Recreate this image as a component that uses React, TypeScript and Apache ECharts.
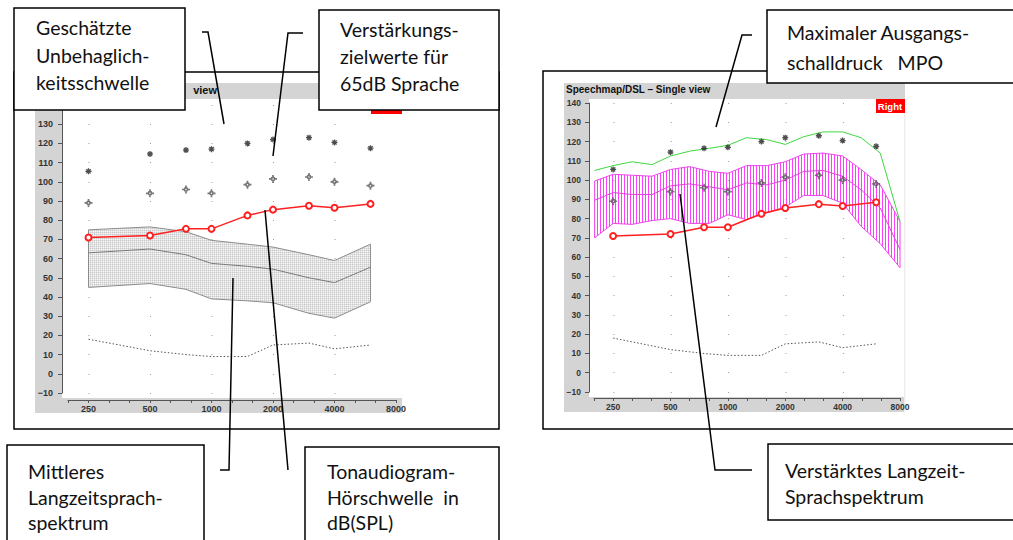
import React, { useEffect, useRef } from 'react';
import * as echarts from 'echarts';

// ---------- data ----------
const FREQ_HZ = [250, 500, 750, 1000, 1500, 2000, 3000, 4000, 6000];
const UCL_SPL = [105.5, 114.5, 116.5, 117, 120, 122, 123, 120.5, 117.5];
const TARGET_65 = [89, 94, 96, 94, 98.5, 101.5, 102.5, 100, 98];
const THRESHOLD_SPL = [71, 72, 75.5, 75.5, 82.5, 85.5, 87.5, 86.5, 88.5];
const NORMAL_THRESHOLD = [18, 12, 10, 9, 9, 15, 16, 13, 15];
const LTASS_UPPER = [75, 76.5, 74, 69.5, 67.5, 66, 62, 59, 67.5];
const LTASS_MEAN = [63, 65, 62, 57.5, 56, 54.5, 50, 47.5, 55.5];
const LTASS_LOWER = [45, 47, 44, 39, 38, 37, 31.5, 29, 37.5];

const BAND_HZ = [200, 250, 315, 400, 500, 630, 800, 1000, 1250, 1600, 2000, 2500, 3150, 4000, 5000, 6300, 8000];
const AIDED_UPPER = [99.5, 103, 102.5, 102, 105.5, 107, 104.5, 103.5, 107.5, 107.5, 109.5, 113.5, 114, 112.5, 105.5, 97.5, 78.5];
const AIDED_MEAN = [89.5, 93.5, 92.5, 92.5, 97, 98, 96.5, 95, 98.5, 97.5, 100, 104.5, 105, 102, 95, 85.5, 64];
const AIDED_LOWER = [70, 77.5, 77, 79, 80, 77.5, 77.5, 82, 79.5, 83, 86, 92, 92, 88, 76, 67, 54.5];
const MPO_SPL = [105, 107.5, 109.5, 108, 112.5, 115, 116.5, 118, 122, 121, 118.5, 122.5, 125, 125, 122, 114, 78.5];

const X_LABEL_HZ = [250, 500, 1000, 2000, 4000, 8000];
const Y_MIN = -10;
const Y_MAX = 140;
const Y_STEP = 10;

const TITLE = 'Speechmap/DSL – Single view';
const TITLE_VISIBLE_TAIL = 'view';
const SIDE = 'Right';
const NOTE_UCL = 'Geschätzte\nUnbehaglich-\nkeitsschwelle';
const NOTE_TARGET = 'Verstärkungs-\nzielwerte für\n65dB Sprache';
const NOTE_LTASS = 'Mittleres\nLangzeitsprach-\nspektrum';
const NOTE_THRESH = 'Tonaudiogram-\nHörschwelle  in\ndB(SPL)';
const NOTE_MPO = 'Maximaler Ausgangs-\nschalldruck   MPO';
const NOTE_AIDED = 'Verstärktes Langzeit-\nSprachspektrum';

// ---------- helpers ----------
const oct = (f: number) => Math.log2(f / 1000);
const X_MIN = -7 / 3;
const X_MAX = 3;
const X_STEP = 1 / 3;

const STAR = 'path://M5,0L5,10M0,5L10,5M1.5,1.5L8.5,8.5M1.5,8.5L8.5,1.5';
const CROSS = 'path://M5,0L5,3M5,7L5,10M0,5L3,5M7,5L10,5M7,5A2,2,0,1,1,3,5A2,2,0,1,1,7,5';

function makePattern(w: number, h: number, draw: (ctx: CanvasRenderingContext2D) => void) {
  const c = document.createElement('canvas');
  c.width = w;
  c.height = h;
  const ctx = c.getContext('2d')!;
  draw(ctx);
  return { image: c, repeat: 'repeat' } as any;
}

function xAxisOf(gridIndex: number, offset: number, fontSize: number) {
  return {
    type: 'value', gridIndex, min: X_MIN, max: X_MAX, interval: X_STEP, offset, position: 'bottom',
    axisLine: { show: true, onZero: false, lineStyle: { color: '#555', width: 1 } },
    axisTick: { show: true, length: 3, lineStyle: { color: '#555' } },
    axisLabel: {
      margin: 4, fontSize, fontWeight: 'bold', color: '#333', fontFamily: 'Liberation Sans',
      showMinLabel: true, showMaxLabel: true,
      formatter: (v: number) => {
        const r = Math.round(v);
        if (Math.abs(v - r) > 1e-6) return '';
        const hz = Math.round(1000 * Math.pow(2, r));
        return X_LABEL_HZ.indexOf(hz) >= 0 ? String(hz) : '';
      },
    },
    splitLine: { show: false },
  };
}

function yAxisOf(gridIndex: number, offset: number, fontSize: number, margin: number, octPx: number) {
  const first = (oct(250) - X_MIN) * octPx;
  return {
    type: 'value', gridIndex, min: Y_MIN, max: Y_MAX, interval: Y_STEP, offset,
    axisLine: { show: true, onZero: false, lineStyle: { color: '#555', width: 1 } },
    axisTick: { show: true, length: 4, lineStyle: { color: '#555' } },
    axisLabel: {
      margin, fontSize, fontWeight: 'bold', color: '#333', fontFamily: 'Liberation Sans',
      formatter: (v: number) => (v < 0 ? '−' + Math.abs(v) : String(v)),
    },
    splitLine: {
      show: true,
      lineStyle: { color: '#9a9a9a', width: 1, type: [1, octPx - 1], dashOffset: octPx - first },
    },
  };
}

function bandSeries(idx: number, freqs: number[], lower: number[], upper: number[], fill: any, stroke: string) {
  return {
    type: 'custom', xAxisIndex: idx, yAxisIndex: idx, silent: true, z: 2,
    data: freqs.map((f, i) => [oct(f), lower[i], upper[i]]),
    encode: { x: 0, y: [1, 2] },
    renderItem: (params: any, api: any) => {
      if (params.dataIndex !== 0) return { type: 'group', children: [] };
      const top = freqs.map((f, i) => api.coord([oct(f), upper[i]]));
      const bot = freqs.map((f, i) => api.coord([oct(f), lower[i]])).reverse();
      return { type: 'polygon', shape: { points: top.concat(bot) }, style: { fill, stroke, lineWidth: 1 } };
    },
  };
}

function pts(freqs: number[], vals: number[]) {
  return freqs.map((f, i) => [oct(f), vals[i]]);
}

function commonSeries(idx: number) {
  return [
    {
      type: 'line', xAxisIndex: idx, yAxisIndex: idx, data: pts(FREQ_HZ, NORMAL_THRESHOLD), symbol: 'none',
      lineStyle: { color: '#555', width: 1, type: [1.5, 2] }, z: 3, silent: true,
    },
    {
      type: 'line', xAxisIndex: idx, yAxisIndex: idx, data: pts(FREQ_HZ, THRESHOLD_SPL), symbol: 'emptyCircle', symbolSize: 6,
      lineStyle: { color: '#ff2020', width: 1.5 }, itemStyle: { color: '#ff2020', borderWidth: 1.5 }, z: 6, silent: true,
    },
    {
      type: 'scatter', xAxisIndex: idx, yAxisIndex: idx, data: pts(FREQ_HZ, UCL_SPL), symbol: STAR, symbolSize: 6,
      itemStyle: { color: 'rgba(0,0,0,0)', borderColor: '#222', borderWidth: 1.3 }, z: 7, silent: true,
    },
    {
      type: 'scatter', xAxisIndex: idx, yAxisIndex: idx, data: pts(FREQ_HZ, TARGET_65), symbol: CROSS, symbolSize: 8,
      itemStyle: { color: 'rgba(0,0,0,0)', borderColor: '#555', borderWidth: 1.7 }, z: 7, silent: true,
    },
  ];
}

function noteBox(x: number, y: number, w: number, h: number, text: string, tx: number, ty: number, lh: number) {
  return [
    { type: 'rect', z: 100, shape: { x, y, width: w, height: h }, style: { fill: '#fff', stroke: '#000', lineWidth: 1.5 } },
    {
      type: 'text', z: 101, x: tx, y: ty,
      style: { text, fill: '#111', fontSize: 19.5, fontFamily: 'Lato', lineHeight: lh, align: 'left', verticalAlign: 'top' },
    },
  ];
}

function leader(points: number[][]) {
  return { type: 'polyline', z: 102, shape: { points }, style: { stroke: '#000', lineWidth: 1.5, fill: null } };
}

function buildOption() {
  const grayPattern = makePattern(2, 2, (ctx) => {
    ctx.fillStyle = '#f5f5f5';
    ctx.fillRect(0, 0, 2, 2);
    ctx.fillStyle = '#e3e3e3';
    ctx.fillRect(1, 0, 1, 1);
    ctx.fillRect(0, 1, 1, 1);
    ctx.fillStyle = '#c8c8c8';
    ctx.fillRect(0, 0, 1, 1);
  });
  const magentaPattern = makePattern(3, 2, (ctx) => {
    ctx.fillStyle = '#ff3cff';
    ctx.fillRect(0, 0, 1, 2);
  });

  const leftOct = 328 / (X_MAX - X_MIN);
  const rightOct = 306 / (X_MAX - X_MIN);

  const graphic: any[] = [
    // outer frames
    { type: 'rect', z: -20, shape: { x: 14, y: 72, width: 485, height: 357 }, style: { fill: '#fff', stroke: '#000', lineWidth: 1.5 } },
    { type: 'rect', z: -20, shape: { x: 543, y: 71, width: 475, height: 358 }, style: { fill: '#fff', stroke: '#000', lineWidth: 1.5 } },
    // chart windows
    { type: 'rect', z: -19, shape: { x: 35, y: 83, width: 367, height: 330 }, style: { fill: '#d4d4d4' } },
    { type: 'rect', z: -18, shape: { x: 62, y: 99, width: 340, height: 299 }, style: { fill: '#fff' } },
    { type: 'rect', z: -19, shape: { x: 564, y: 83, width: 341, height: 329 }, style: { fill: '#d4d4d4' } },
    { type: 'rect', z: -18, shape: { x: 589, y: 99, width: 315, height: 298 }, style: { fill: '#fff' } },
    { type: 'rect', z: -18, shape: { x: 904, y: 99, width: 1.5, height: 313 }, style: { fill: '#eeeeee' } },
    // left window title: only its tail is visible beside the annotation box
    { type: 'text', z: -17, x: 217, y: 90, style: { text: TITLE_VISIBLE_TAIL, fill: '#111', fontSize: 11, fontWeight: 'bold', fontFamily: 'Liberation Sans', align: 'right', verticalAlign: 'middle' } },
    { type: 'text', z: -17, x: 566, y: 89, style: { text: TITLE, fill: '#111', fontSize: 10, fontWeight: 'bold', fontFamily: 'Liberation Sans', align: 'left', verticalAlign: 'middle' } },
    { type: 'rect', z: -17, shape: { x: 371, y: 97, width: 31, height: 17 }, style: { fill: '#ff0000' } },
    { type: 'rect', z: -17, shape: { x: 876, y: 99, width: 29, height: 14 }, style: { fill: '#ff0000' } },
    { type: 'text', z: -16, x: 890, y: 106, style: { text: SIDE, fill: '#fff', fontSize: 9.5, fontWeight: 'bold', fontFamily: 'Liberation Sans', align: 'center', verticalAlign: 'middle' } },
    // annotation boxes
    ...noteBox(14, 8, 171, 102, NOTE_UCL, 36, 14, 27.5),
    ...noteBox(319, 10, 180, 100, NOTE_TARGET, 340, 16, 27),
    ...noteBox(7, 445, 197, 110, NOTE_LTASS, 28, 459, 25.5),
    ...noteBox(305, 447, 194, 110, NOTE_THRESH, 327, 459, 25.5),
    ...noteBox(767, 10, 260, 73, NOTE_MPO, 787, 18, 29.5),
    ...noteBox(768, 444, 260, 76, NOTE_AIDED, 785, 457, 26),
    // leader lines
    leader([[202, 32], [208, 32], [224, 124]]),
    leader([[303, 33], [288, 33], [273, 156]]),
    leader([[233, 278], [229, 470], [220, 470]]),
    leader([[265, 210], [288, 470]]),
    leader([[752, 35], [742, 35], [716, 127]]),
    leader([[680, 194], [715, 470], [752, 470]]),
  ];

  return {
    animation: false,
    backgroundColor: '#fff',
    grid: [
      { left: 68, top: 105, width: 328, height: 288 },
      { left: 594, top: 103, width: 306, height: 289 },
    ],
    xAxis: [xAxisOf(0, 7, 9), xAxisOf(1, 6, 8.5)],
    yAxis: [yAxisOf(0, 6, 9, 9, leftOct), yAxisOf(1, 5, 8.5, 8, rightOct)],
    graphic,
    series: [
      bandSeries(0, FREQ_HZ, LTASS_LOWER, LTASS_UPPER, grayPattern, '#8c8c8c'),
      {
        type: 'line', xAxisIndex: 0, yAxisIndex: 0, data: pts(FREQ_HZ, LTASS_MEAN), symbol: 'none',
        lineStyle: { color: '#7a7a7a', width: 1 }, z: 3, silent: true,
      },
      ...commonSeries(0),
      bandSeries(1, BAND_HZ, AIDED_LOWER, AIDED_UPPER, magentaPattern, '#ee44ee'),
      {
        type: 'line', xAxisIndex: 1, yAxisIndex: 1, data: pts(BAND_HZ, AIDED_MEAN), symbol: 'none',
        lineStyle: { color: '#e040e0', width: 1 }, z: 3, silent: true,
      },
      {
        type: 'line', xAxisIndex: 1, yAxisIndex: 1, data: pts(BAND_HZ, MPO_SPL), symbol: 'none',
        lineStyle: { color: '#3fd83f', width: 1 }, z: 4, silent: true,
      },
      ...commonSeries(1),
    ],
  };
}

export default function App() {
  const ref = useRef<HTMLDivElement>(null);
  useEffect(() => {
    const chart = echarts.init(ref.current!, null, { renderer: 'svg' });
    chart.setOption(buildOption() as any);
    return () => chart.dispose();
  }, []);
  return (
    <div
      ref={ref}
      style={{ position: 'absolute', left: 0, top: 0, width: 1013, height: 540, background: '#fff' }}
    />
  );
}
